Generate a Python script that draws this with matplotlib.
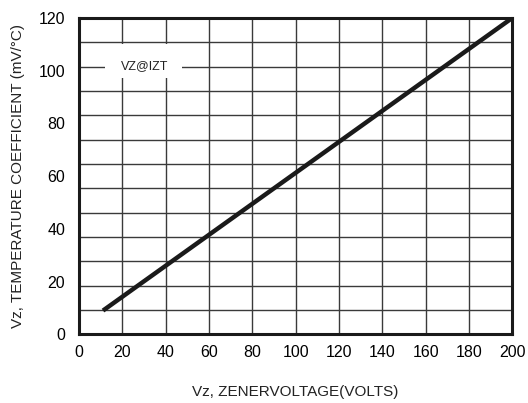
import matplotlib
matplotlib.use("Agg")
import matplotlib.pyplot as plt
import numpy as np
from matplotlib.patches import Rectangle

# data
vz_volts = [11, 200]
temp_coeff = [9, 120]

x_ticks = [0, 20, 40, 60, 80, 100, 120, 140, 160, 180, 200]
y_ticks = [0, 20, 40, 60, 80, 100, 120]
n_rows = 13  # the printed grid has 13 rows, not tied to the tick labels

plt.rcParams['font.family'] = ['Liberation Sans', 'DejaVu Sans']

fig = plt.figure(figsize=(5.28, 4.03), dpi=100)
ax = fig.add_axes([0.150, 0.1705, 0.820, 0.7848])

ax.set_xlim(0, 200)
ax.set_ylim(0, 120)

# grid
for x in x_ticks[1:-1]:
    ax.axvline(x, color='#3a3a3a', lw=1.0, zorder=1)
for y in np.linspace(0, 120, n_rows + 1)[1:-1]:
    ax.axhline(y, color='#3a3a3a', lw=1.0, zorder=1)

# label box covering the grid
ax.add_patch(Rectangle((12, 97.3), 35.5, 12.9, facecolor='white', edgecolor='none', zorder=2))
ax.text(30, 101.6, 'VZ@IZT', fontsize=9, ha='center', va='center', color='#222222', zorder=3)

ax.plot(vz_volts, temp_coeff, color='#1a1a1a', lw=3.2, solid_capstyle='butt', zorder=4)

ax.set_xticks(x_ticks)
ax.set_yticks(y_ticks)
ax.tick_params(length=0, labelsize=11.5)
ax.tick_params(axis='x', pad=8)
ax.tick_params(axis='y', pad=10)
for s in ax.spines.values():
    s.set_linewidth(2.2)
    s.set_color('#1a1a1a')

ax.set_xlabel('Vz, ZENERVOLTAGE(VOLTS)', fontsize=11, labelpad=18, color='#222222')
ax.set_ylabel('Vz, TEMPERATURE COEFFICIENT (mV/°C)', fontsize=11, labelpad=10, color='#222222')

fig.savefig('out.png', dpi=100)
